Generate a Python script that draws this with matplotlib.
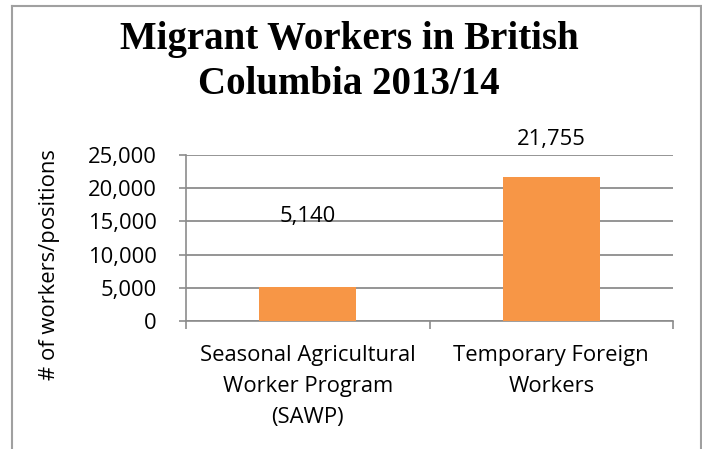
import matplotlib.pyplot as plt
from matplotlib.ticker import FuncFormatter

categories = ['Seasonal Agricultural\nWorker Program\n(SAWP)', 'Temporary Foreign\nWorkers']
values = [5140, 21755]
label_offsets = [70, 37]  # pixels above bar top
yticks = [0, 5000, 10000, 15000, 20000, 25000]

plt.rcParams['font.family'] = ['Open Sans', 'DejaVu Sans']
fs = 15.8

fig = plt.figure(figsize=(7.02, 4.49), dpi=100)
ax = fig.add_axes([186 / 702, 1 - 321 / 449, (673 - 186) / 702, (321 - 155) / 449])

x = [0.5, 1.5]
ax.bar(x, values, width=0.4, color='#F79646', zorder=3)
ax.set_xlim(0, 2)
ax.set_ylim(0, 25000)
ax.set_yticks(yticks)
ax.yaxis.set_major_formatter(FuncFormatter(lambda v, p: f'{int(v):,}'))
ax.set_xticks([0, 1, 2])
ax.set_xticklabels([])
ax.set_xticks(x, minor=True)
ax.set_xticklabels(categories, minor=True, fontsize=fs, linespacing=1.65)
ax.tick_params(axis='x', which='minor', length=0, pad=17)
ax.tick_params(axis='x', which='major', length=6, color='#8c8c8c', width=1.2)
ax.tick_params(axis='y', length=5, color='#8c8c8c', width=1.2, labelsize=fs, pad=16)
ax.grid(axis='y', color='#8c8c8c', linewidth=1.3, zorder=0)
for s in ['top', 'right']:
    ax.spines[s].set_visible(False)
for s in ['left', 'bottom']:
    ax.spines[s].set_color('#8c8c8c')
    ax.spines[s].set_linewidth(1.2)

for xi, v, off in zip(x, values, label_offsets):
    ax.annotate(f'{v:,}', (xi, v), xytext=(0, off * 0.72), textcoords='offset points',
                ha='center', va='center', fontsize=fs)

fig.text(50 / 702, 1 - 265 / 449, '# of workers/positions', rotation=90,
         ha='center', va='center', fontsize=fs)

serif = ['Liberation Serif', 'DejaVu Serif']
fig.text(349 / 702, 1 - 39 / 449, 'Migrant Workers in British', ha='center', va='center',
         fontsize=28, fontweight='bold', family=serif)
fig.text(349 / 702, 1 - 85 / 449, 'Columbia 2013/14', ha='center', va='center',
         fontsize=28, fontweight='bold', family=serif)

# chart frame (bottom edge is cut off in the source)
frame = dict(transform=fig.transFigure, color='#a0a0a0', linewidth=1.5)
fig.add_artist(plt.Line2D([12 / 702, 12 / 702], [0, 1 - 6 / 449], **frame))
fig.add_artist(plt.Line2D([12 / 702, 701 / 702], [1 - 6 / 449, 1 - 6 / 449], **frame))
fig.add_artist(plt.Line2D([701 / 702, 701 / 702], [0, 1 - 6 / 449], **frame))

fig.savefig('out.png', dpi=100)
